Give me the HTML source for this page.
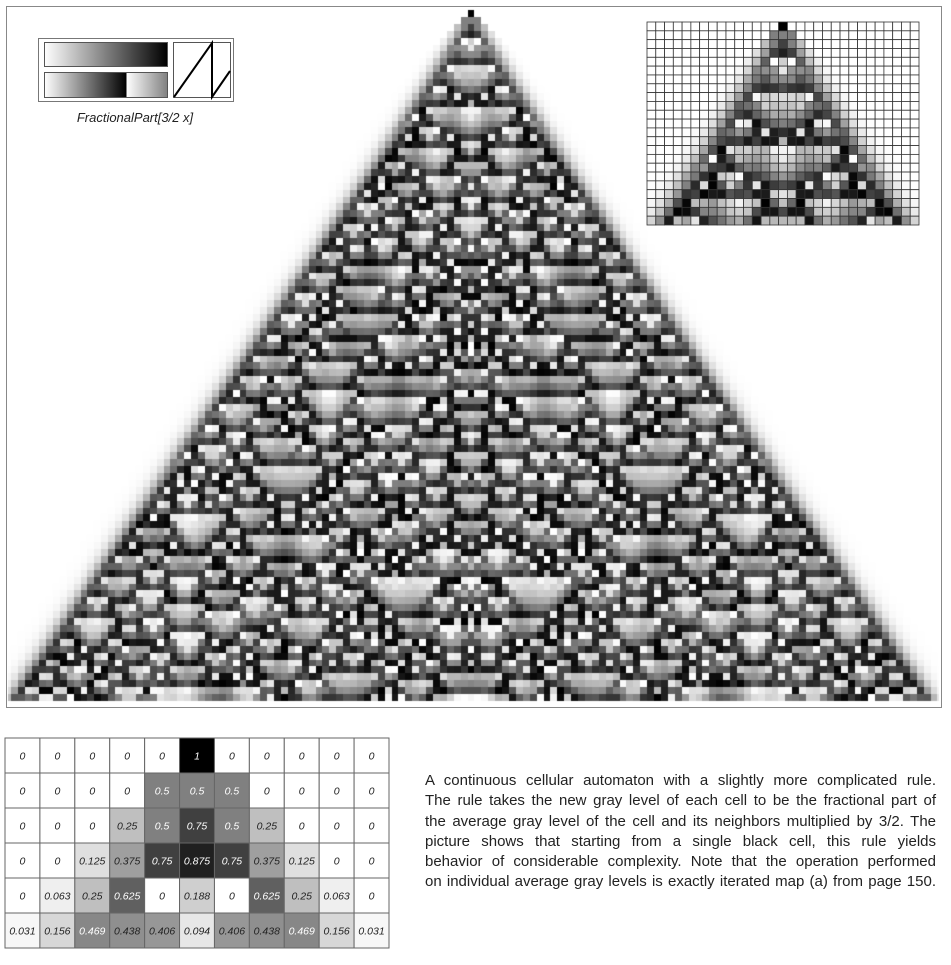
<!DOCTYPE html>
<html><head><meta charset="utf-8">
<style>
body{margin:0;background:#fff;width:951px;height:965px;position:relative;overflow:hidden;font-family:"Liberation Sans",sans-serif}
#frame{position:absolute;left:6px;top:6px;width:934px;height:700px;border:1px solid #888;box-sizing:content-box}
#ca{position:absolute;left:0;top:0}
#legend{position:absolute;left:0;top:0}
#inset{position:absolute;left:0;top:0}
#caption{position:absolute;left:425px;top:771px;width:511px;font-size:15px;line-height:20.3px;color:#222}
#caption div{text-align:justify;text-align-last:justify;white-space:nowrap;overflow:visible}
#table{position:absolute;left:0;top:0}
</style></head><body>
<div id="frame"></div>
<canvas id="ca" width="951" height="720"></canvas>
<svg id="legend" width="951" height="140">
<defs>
<linearGradient id="g1" x1="0" x2="1"><stop offset="0" stop-color="#fff"/><stop offset="1" stop-color="#000"/></linearGradient>
<linearGradient id="g2" x1="0" x2="1"><stop offset="0" stop-color="#fff"/><stop offset="0.667" stop-color="#000"/><stop offset="0.667" stop-color="#fff"/><stop offset="1" stop-color="#808080"/></linearGradient>
</defs>
<rect x="38.5" y="38.5" width="195" height="63" fill="#fff" stroke="#777"/>
<rect x="44.5" y="42.5" width="123" height="24" fill="url(#g1)" stroke="#555"/>
<rect x="44.5" y="72.5" width="123" height="25" fill="url(#g2)" stroke="#555"/>
<rect x="173.5" y="42.5" width="57" height="55" fill="#fff" stroke="#555"/>
<polyline points="174,97 212,43 212,97 230,71" fill="none" stroke="#000" stroke-width="2"/>
<text x="135" y="122" text-anchor="middle" font-size="13" font-style="italic" fill="#222" font-family="Liberation Sans, sans-serif">FractionalPart[3/2 x]</text>
</svg>
<svg id="inset" width="951" height="240"></svg>
<svg id="table" width="951" height="965" style="pointer-events:none"></svg>
<div id="caption">
<div>A continuous cellular automaton with a slightly more complicated rule.</div>
<div>The rule takes the new gray level of each cell to be the fractional part of</div>
<div>the average gray level of the cell and its neighbors multiplied by 3/2. The</div>
<div>picture shows that starting from a single black cell, this rule yields</div>
<div>behavior of considerable complexity. Note that the operation performed</div>
<div>on individual average gray levels is exactly iterated map (a) from page 150.</div>
</div>
<script>
const multiplier = 1.5;
const mainSteps = 100;
const insetCols = 31;
const insetRows = 23;
const tableRows = [
 ["0","0","0","0","0","1","0","0","0","0","0"],
 ["0","0","0","0","0.5","0.5","0.5","0","0","0","0"],
 ["0","0","0","0.25","0.5","0.75","0.5","0.25","0","0","0"],
 ["0","0","0.125","0.375","0.75","0.875","0.75","0.375","0.125","0","0"],
 ["0","0.063","0.25","0.625","0","0.188","0","0.625","0.25","0.063","0"],
 ["0.031","0.156","0.469","0.438","0.406","0.094","0.406","0.438","0.469","0.156","0.031"]
];
function evolve(steps){
  const W=2*steps+3; let row=new Array(W).fill(0); row[steps+1]=1;
  const out=[row.slice()];
  for(let t=0;t<steps;t++){
    const n=new Array(W).fill(0);
    for(let i=1;i<W-1;i++){const v=multiplier*(row[i-1]+row[i]+row[i+1])/3; n[i]=v-Math.floor(v+1e-12); if(n[i]<1e-9)n[i]=0;}
    row=n; out.push(row.slice());
  }
  return out;
}
function gray(v){const g=Math.round(255*(1-v));return `rgb(${g},${g},${g})`;}
// main
const rows=evolve(mainSteps-1);
const ctx=document.getElementById('ca').getContext('2d');
ctx.save();ctx.beginPath();ctx.rect(8,8,931,697);ctx.clip();
const y0=10,y1=701;
const ch=(y1-y0)/mainSteps, cw=ch, cx=471;
rows.forEach((r,t)=>{
  const c=mainSteps;
  for(let k=-t;k<=t;k++){
    const v=r[c+k]; ctx.fillStyle=gray(v);
    const x=cx+(k-0.5)*cw;
    ctx.fillRect(Math.round(x),Math.round(y0+t*ch),Math.round(x+cw)-Math.round(x),Math.round(y0+(t+1)*ch)-Math.round(y0+t*ch));
  }
});
ctx.restore();
// inset
const ins=document.getElementById('inset');
const NS='http://www.w3.org/2000/svg';
const ir=evolve(insetRows);
const ix=647, iy=22, iw=272/insetCols, ih=203/insetRows, half=(insetCols-1)/2;
for(let t=0;t<insetRows;t++){for(let j=0;j<insetCols;j++){
  const v=ir[t][insetRows+1+j-half];
  const r=document.createElementNS(NS,'rect');
  r.setAttribute('x',ix+j*iw);r.setAttribute('y',iy+t*ih);r.setAttribute('width',iw);r.setAttribute('height',ih);
  r.setAttribute('fill',gray(v));r.setAttribute('stroke','#333');r.setAttribute('stroke-width','0.8');
  
  
  ins.appendChild(r);
}}
// table
const tb=document.getElementById('table');
const tx=5, ty=738, tw=384/11, th=210/6;
tableRows.forEach((row,i)=>row.forEach((s,j)=>{
  const v=parseFloat(s);
  const r=document.createElementNS(NS,'rect');
  r.setAttribute('x',tx+j*tw);r.setAttribute('y',ty+i*th);r.setAttribute('width',tw);r.setAttribute('height',th);
  r.setAttribute('fill',gray(v));r.setAttribute('stroke','#666');r.setAttribute('stroke-width','1');
  
  
  tb.appendChild(r);
  const t=document.createElementNS(NS,'text');
  t.setAttribute('x',tx+(j+0.5)*tw);t.setAttribute('y',ty+(i+0.5)*th+4);
  t.setAttribute('text-anchor','middle');t.setAttribute('font-size','10.5');t.setAttribute('font-style','italic');
  t.setAttribute('font-family','Liberation Sans, sans-serif');
  t.setAttribute('fill',v>0.45?'#fff':'#222');
  
  
  t.textContent=s; tb.appendChild(t);
}));
</script>
</body></html>
